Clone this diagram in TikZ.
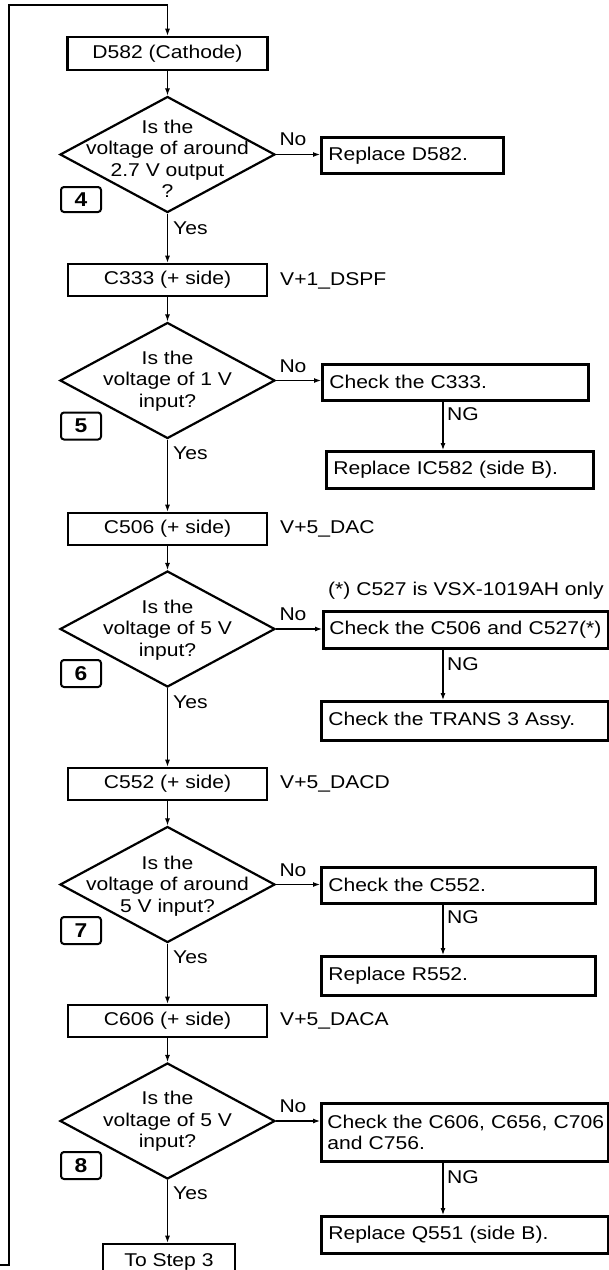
\documentclass[tikz,border=0pt]{standalone}
\usepackage{fontspec}
\setmainfont{Liberation Sans}[FakeStretch=1.14]
\usetikzlibrary{shapes.geometric,arrows.meta}
\begin{document}
\begin{tikzpicture}[x=1pt,y=-1pt,
  every node/.style={font=\fontsize{18.5}{21.5}\selectfont, text=black},
  cbox/.style={draw, line width=2.6pt, minimum width=199pt, minimum height=32pt, inner sep=0pt},
  rbox/.style={draw, line width=2.6pt, anchor=north west, inner xsep=7pt, inner ysep=0pt, align=left},
  dia/.style={diamond, draw, line width=2.2pt, minimum width=215pt, minimum height=116pt, inner sep=0pt},
  numbox/.style={draw, line width=2pt, rounded corners=3pt, minimum width=40pt, minimum height=27pt, inner sep=0pt, font=\bfseries\fontsize{20}{20}\selectfont},
  lbl/.style={inner sep=0pt},
  arr/.style={line width=1.1pt, -{Latex[length=7pt,width=5pt]}},
  ln/.style={line width=1.1pt}
]
\useasboundingbox (0,0) rectangle (609,1270);
\clip (0,0) rectangle (609,1270);

% ---------- main column ----------
\node[cbox, minimum width=200pt, minimum height=33pt] (d582) at (167.5,53.5) {D582 (Cathode)};
\node[dia] (d4) at (167.5,154.5) {};
\node[lbl, align=center] (t4) at (167.5,159) {Is the\\voltage of around\\2.7 V output\\?};
\node[numbox, minimum height=25pt] (n4) at (81,199.5) {4};

\node[cbox] (c333) at (167.5,280) {C333 (+ side)};
\node[lbl, anchor=west] (v333) at (280,281) {V+1\_DSPF};
\node[dia] (d5) at (167.5,380.5) {};
\node[lbl, align=center] (t5) at (167.5,381) {Is the\\voltage of 1 V\\input?};
\node[numbox] (n5) at (81,426) {5};

\node[cbox] (c506) at (167.5,529) {C506 (+ side)};
\node[lbl, anchor=west] (v506) at (280,529) {V+5\_DAC};
\node[dia] (d6) at (167.5,629) {};
\node[lbl, align=center] (t6) at (167.5,630) {Is the\\voltage of 5 V\\input?};
\node[numbox] (n6) at (81,673.5) {6};

\node[cbox] (c552) at (167.5,784) {C552 (+ side)};
\node[lbl, anchor=west] (v552) at (280,784) {V+5\_DACD};
\node[dia] (d7) at (167.5,884.5) {};
\node[lbl, align=center] (t7) at (167.5,886) {Is the\\voltage of around\\5 V input?};
\node[numbox] (n7) at (81,930.5) {7};

\node[cbox] (c606) at (167.5,1021) {C606 (+ side)};
\node[lbl, anchor=west] (v606) at (280,1021) {V+5\_DACA};
\node[dia] (d8) at (167.5,1121) {};
\node[lbl, align=center] (t8) at (167.5,1121.5) {Is the\\voltage of 5 V\\input?};
\node[numbox] (n8) at (81,1165.5) {8};

\node[cbox, minimum width=132pt, minimum height=36pt] (step3) at (169,1262) {To Step 3};

% ---------- right column ----------
\node[rbox, text width=168pt, minimum height=36pt] (rd582) at (320,136) {Replace D582.};
\node[rbox, text width=252pt, minimum height=36pt] (k333) at (321,363) {Check the C333.};
\node[rbox, text width=253pt, minimum height=37pt] (r582) at (325,450) {Replace IC582 (side B).};
\node[lbl, anchor=west] (note) at (328,591) {(*) C527 is VSX-1019AH only};
\node[rbox, inner xsep=6pt, text width=273pt, minimum height=37pt] (k506) at (322,610) {\mbox{Check the C506 and C527(*)}};
\node[rbox, text width=273pt, minimum height=39pt] (trans) at (320,700) {Check the TRANS 3 Assy.};
\node[rbox, text width=260pt, minimum height=36pt] (k552) at (320,866) {Check the C552.};
\node[rbox, text width=260pt, minimum height=39pt] (r552) at (320,955) {Replace R552.};
\node[rbox, inner xsep=6pt, text width=275pt, minimum height=58pt] (k606) at (320,1102) {\mbox{Check the C606, C656, C706}\\and C756.};
\node[rbox, text width=273pt, minimum height=37pt] (q551) at (320,1215) {Replace Q551 (side B).};

% ---------- labels ----------
\node[lbl] (no4) at (293,139.5) {No};
\node[lbl] (no5) at (293,366) {No};
\node[lbl] (no6) at (293,614) {No};
\node[lbl] (no7) at (293,870) {No};
\node[lbl] (no8) at (293,1106) {No};
\node[lbl, anchor=west] (y4) at (173,228) {Yes};
\node[lbl, anchor=west] (y5) at (173,453) {Yes};
\node[lbl, anchor=west] (y6) at (173,702) {Yes};
\node[lbl, anchor=west] (y7) at (173,957) {Yes};
\node[lbl, anchor=west] (y8) at (173,1193) {Yes};
\node[lbl, anchor=west] (ng5) at (447,414) {NG};
\node[lbl, anchor=west] (ng6) at (447,664) {NG};
\node[lbl, anchor=west] (ng7) at (447,917) {NG};
\node[lbl, anchor=west] (ng8) at (447,1177) {NG};

% ---------- connectors ----------
\coordinate (lb) at (0,1265);
\coordinate (lc) at (9,1265);
\coordinate (lt) at (9,5);
\coordinate (ngx) at (443,0);
\draw[arr] (lb) -- (lc) -- (lt) -- (d582.north |- lt) -- (d582.north);

\draw[arr] (d582.south) -- (d4.north);
\draw[arr] (d4.south) -- (c333.north);
\draw[arr] (c333.south) -- (d5.north);
\draw[arr] (d5.south) -- (c506.north);
\draw[arr] (c506.south) -- (d6.north);
\draw[arr] (d6.south) -- (c552.north);
\draw[arr] (c552.south) -- (d7.north);
\draw[arr] (d7.south) -- (c606.north);
\draw[arr] (c606.south) -- (d8.north);
\draw[arr] (d8.south) -- (d8.south |- step3.north);

\draw[arr] (d4.east) -- (d4.east -| rd582.west);
\draw[arr] (d5.east) -- (d5.east -| k333.west);
\draw[arr] (d6.east) -- (d6.east -| k506.west);
\draw[arr] (d7.east) -- (d7.east -| k552.west);
\draw[arr] (d8.east) -- (d8.east -| k606.west);

\draw[arr] (k333.south -| ngx) -- (r582.north -| ngx);
\draw[arr] (k506.south -| ngx) -- (trans.north -| ngx);
\draw[arr] (k552.south -| ngx) -- (r552.north -| ngx);
\draw[arr] (k606.south -| ngx) -- (q551.north -| ngx);
\end{tikzpicture}
\end{document}
